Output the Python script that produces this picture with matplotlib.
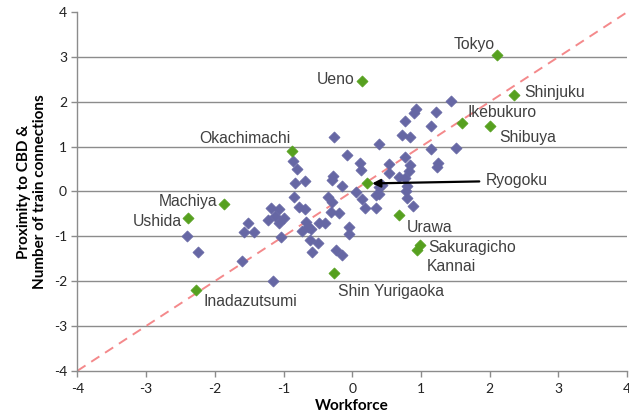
import numpy as np
import matplotlib
matplotlib.use('Agg')
import matplotlib.pyplot as plt

plt.rcParams['axes.unicode_minus'] = False

# other stations (workforce score, proximity/connection score)
other_x = [-0.26, -0.07, -0.86, -0.80, -0.83, -0.69, -0.28, -0.29, -0.15, 0.11,
           0.13, 0.06, -0.85, -0.35, -0.29, -0.77, -0.69, -1.18, -1.07, -1.12,
           -0.99, -1.22, -1.07, -1.51, -1.58, -1.43, -1.04, -0.67, -0.64, -0.73,
           -0.60, -0.48, -0.39, -0.31, -0.19, -0.04, -0.04, -0.61, -0.50, -0.58,
           -0.24, -0.15, -2.41, -2.25, -1.61, -1.15, 1.44, 0.93, 0.90, 1.22,
           0.77, 1.15, 0.72, 0.84, 0.39, 1.51, 1.14, 0.77, 1.25, 1.23,
           0.54, 0.84, 0.82, 0.53, 0.68, 0.77, 0.79, 0.78, 0.44, 0.39,
           0.34, 0.39, 0.80, 0.88, 0.14, 0.19, 0.35]
other_y = [1.21, 0.81, 0.68, 0.50, 0.20, 0.23, 0.35, 0.26, 0.13, 0.63,
           0.48, -0.02, -0.13, -0.12, -0.23, -0.34, -0.40, -0.37, -0.40, -0.55,
           -0.59, -0.63, -0.71, -0.71, -0.91, -0.91, -1.01, -0.67, -0.79, -0.88,
           -0.84, -0.71, -0.71, -0.45, -0.49, -0.80, -0.94, -1.09, -1.15, -1.36,
           -1.30, -1.41, -0.99, -1.36, -1.56, -1.99, 2.02, 1.85, 1.74, 1.78,
           1.58, 1.47, 1.27, 1.21, 1.05, 0.98, 0.95, 0.76, 0.64, 0.54,
           0.61, 0.59, 0.46, 0.41, 0.33, 0.29, 0.12, 0.00, 0.14, 0.11,
           -0.08, -0.06, -0.15, -0.32, -0.16, -0.37, -0.37]

# labelled stations
names = ['Tokyo', 'Ueno', 'Shinjuku', 'Ikebukuro', 'Shibuya', 'Okachimachi',
         'Ryogoku', 'Machiya', 'Ushida', 'Urawa', 'Sakuragicho', 'Kannai',
         'Shin Yurigaoka', 'Inadazutsumi']
named_x = [2.10, 0.14, 2.35, 1.59, 2.01, -0.87, 0.21, -1.86, -2.39, 0.68, 0.99, 0.94, -0.27, -2.27]
named_y = [3.04, 2.46, 2.15, 1.52, 1.46, 0.90, 0.19, -0.28, -0.59, -0.52, -1.19, -1.30, -1.82, -2.19]

# label placement: (x, y, ha)
label_pos = {
    'Tokyo': (2.08, 3.28, 'right'),
    'Ueno': (0.04, 2.50, 'right'),
    'Shinjuku': (2.50, 2.20, 'left'),
    'Ikebukuro': (1.68, 1.77, 'left'),
    'Shibuya': (2.14, 1.21, 'left'),
    'Okachimachi': (-0.90, 1.19, 'right'),
    'Machiya': (-1.96, -0.23, 'right'),
    'Ushida': (-2.48, -0.68, 'right'),
    'Urawa': (0.79, -0.80, 'left'),
    'Sakuragicho': (1.11, -1.26, 'left'),
    'Kannai': (1.09, -1.67, 'left'),
    'Shin Yurigaoka': (-0.21, -2.22, 'left'),
    'Inadazutsumi': (-2.17, -2.46, 'left'),
}

blue = '#6667A4'
green = '#56A01F'
grey = '#8C8C8C'

fig = plt.figure(figsize=(6.29, 4.19), dpi=100)
ax = fig.add_axes([0.123, 0.115, 0.874, 0.856])

ax.plot([-4, 4], [-4, 4], color='#F4898B', lw=1.4, ls=(0, (5, 3.5)), zorder=1)
ax.scatter(other_x, other_y, marker='D', s=32, color=blue, edgecolors=blue, lw=0.5, zorder=3)
ax.scatter(named_x, named_y, marker='D', s=32, color=green, edgecolors=green, lw=0.5, zorder=4)

for n in names:
    if n == 'Ryogoku':
        continue
    tx, ty, ha = label_pos[n]
    ax.text(tx, ty, n, ha=ha, va='center', fontsize=11.3, color='#404040',
            family='Liberation Sans', zorder=5)

ax.annotate('Ryogoku', xy=(0.29, 0.18), xytext=(1.95, 0.24), ha='left', va='center',
            fontsize=11.3, color='#404040', family='Liberation Sans',
            arrowprops=dict(arrowstyle='-|>', color='black', lw=1.6,
                            mutation_scale=12, shrinkA=3, shrinkB=0), zorder=5)

ax.set_xlim(-4, 4)
ax.set_ylim(-4, 4)
ax.set_xticks(range(-4, 5))
ax.set_yticks(range(-4, 5))
for y in range(-3, 4):
    ax.axhline(y, color=grey, lw=1.0, zorder=0)

for s in ['top', 'right']:
    ax.spines[s].set_visible(False)
for s in ['left', 'bottom']:
    ax.spines[s].set_color(grey)
    ax.spines[s].set_linewidth(1.0)
ax.tick_params(colors=grey, length=4, width=1.0, labelcolor='#222222', labelsize=10)
ax.tick_params(axis='x', pad=5)
for lab in ax.get_xticklabels() + ax.get_yticklabels():
    lab.set_family('Lato')

ax.set_xlabel('Workforce', fontsize=11, fontweight='bold', family='Lato', labelpad=3)
ax.set_ylabel('Proximity to CBD &\nNumber of train connections', fontsize=11,
              fontweight='bold', family='Lato', labelpad=5)

fig.savefig('out.png', dpi=100)
